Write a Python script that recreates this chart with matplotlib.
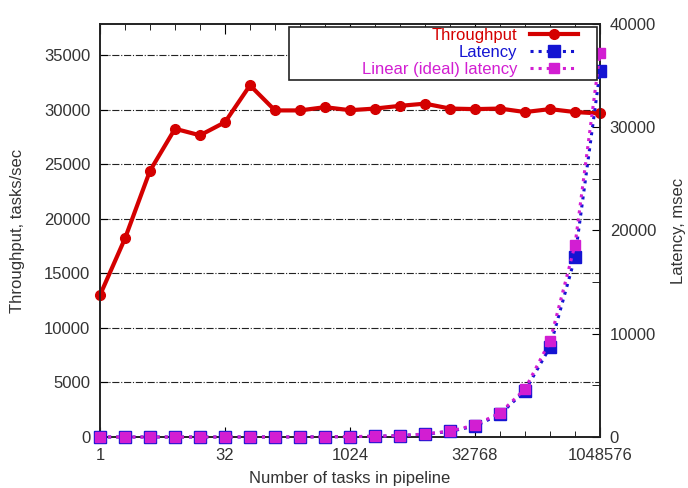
import matplotlib
matplotlib.use("Agg")
import matplotlib.pyplot as plt
from matplotlib.patches import Rectangle
from matplotlib.ticker import FixedLocator, FixedFormatter, MultipleLocator

plt.rcParams["font.family"] = ["Liberation Sans", "DejaVu Sans"]

# tasks in pipeline, 2^0 .. 2^20
tasks = [1, 2, 4, 8, 16, 32, 64, 128, 256, 512, 1024, 2048, 4096, 8192,
         16384, 32768, 65536, 131072, 262144, 524288, 1048576]
throughput = [13000, 18200, 24400, 28250, 27650, 28850, 32230, 29930, 29930,
              30230, 29950, 30100, 30350, 30550, 30100, 30050, 30100, 29780,
              30050, 29780, 29650]
latency = [0, 0, 0, 0, 1, 1, 2, 4, 8, 17, 34, 68, 135, 270, 540, 1060,
           2200, 4480, 8700, 17400, 35400]
ideal_latency = [0.04, 0.07, 0.14, 0.28, 0.57, 1.1, 2.3, 4.5, 9.1, 18, 36,
                 73, 145, 290, 580, 1160, 2330, 4650, 9300, 18600, 37200]
xtick_labels = ["1", "32", "1024", "32768", "1048576"]

TXT = "#333333"
RED = "#d40000"
BLUE = "#1414d2"
MAGENTA = "#d21ed2"
FS = 12

fig = plt.figure(figsize=(6.88, 4.88), dpi=100)
ax = fig.add_axes([100 / 688, 51 / 488, 500 / 688, 413 / 488])
ax2 = ax.twinx()

ax.set_xscale("log", base=2)
ax.set_xlim(1, 1048576)
ax.set_ylim(0, 37850)
ax2.set_ylim(0, 40000)

for yv in range(5000, 36000, 5000):
    ax.axhline(yv, color="#222222", lw=0.8, ls="-.", zorder=0)

l1, = ax.plot(tasks, throughput, color=RED, lw=3, marker="o", ms=7,
              clip_on=False, zorder=3, label="Throughput")
l2, = ax2.plot(tasks, latency, color=BLUE, lw=2.2, ls=":", marker="s", ms=9,
               mec=BLUE, mfc=BLUE, clip_on=False, zorder=3, label="Latency")
l3, = ax2.plot(tasks, ideal_latency, color=MAGENTA, lw=2.2, ls=":", marker="s",
               ms=7.5, mec=MAGENTA, mfc=MAGENTA, clip_on=False, zorder=4,
               label="Linear (ideal) latency")

major = [tasks[i] for i in (0, 5, 10, 15, 20)]
ax.xaxis.set_major_locator(FixedLocator(major))
ax.xaxis.set_major_formatter(FixedFormatter(xtick_labels))
ax.xaxis.set_minor_locator(FixedLocator(tasks))
ax.yaxis.set_major_locator(MultipleLocator(5000))
ax2.yaxis.set_major_locator(MultipleLocator(10000))
ax2.yaxis.set_minor_locator(MultipleLocator(5000))

ax.tick_params(axis="x", which="both", direction="in", top=True,
               labelsize=FS, labelcolor=TXT, pad=8)
ax.tick_params(axis="x", which="major", length=7)
ax.tick_params(axis="x", which="minor", length=4)
ax.tick_params(axis="y", direction="in", length=6, labelsize=FS,
               labelcolor=TXT, pad=7)
ax2.tick_params(axis="y", which="both", direction="in", length=6,
                labelsize=FS, labelcolor=TXT, pad=7)
ax.xaxis.set_tick_params(which="minor", labelbottom=False)

for a in (ax, ax2):
    for s in a.spines.values():
        s.set_color("#222222")
        s.set_linewidth(1.2)

ax.set_xlabel("Number of tasks in pipeline", fontsize=FS, color=TXT)
ax.xaxis.set_label_coords(0.5, -0.082)
ax.set_ylabel("Throughput, tasks/sec", fontsize=FS, color=TXT)
ax.yaxis.set_label_coords(-0.15, 0.5)
ax2.set_ylabel("Latency, msec", fontsize=FS, color=TXT)
ax2.yaxis.set_label_coords(1.142, 0.5)

# legend frame drawn separately: the gnuplot key box is wider than its entries
ax2.add_patch(Rectangle((0.378, 0.864), 0.616, 0.129, transform=ax2.transAxes,
                        facecolor="white", edgecolor="#222222", lw=1.2,
                        zorder=9, clip_on=False))
leg = ax2.legend(handles=[l1, l2, l3], loc="upper right",
                 bbox_to_anchor=(0.956, 0.99), borderaxespad=0,
                 markerfirst=False, fontsize=FS,
                 labelcolor=[RED, BLUE, MAGENTA], frameon=False,
                 handlelength=2.9, handletextpad=0.75, labelspacing=0.12,
                 borderpad=0, numpoints=1)
leg.set_zorder(10)

fig.savefig("out.png", dpi=100)
